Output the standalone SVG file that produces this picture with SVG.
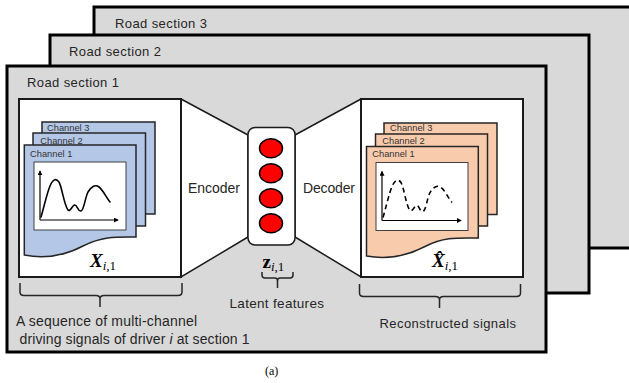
<svg xmlns="http://www.w3.org/2000/svg" xmlns:xlink="http://www.w3.org/1999/xlink" width="629" height="383" viewBox="0 0 629 383">
<defs>
<style>
.sec{fill:#d9d9d9;stroke:#000;stroke-width:3}
.box{fill:#fff;stroke:#1a1a1a;stroke-width:2}
.trap{fill:#fff;stroke:#1a1a1a;stroke-width:1.5;stroke-linejoin:miter}
.lbl{font-family:"Liberation Sans",Arial,sans-serif;fill:#262626}
.ch{font-family:"Liberation Sans",Arial,sans-serif;font-size:9.3px;fill:#333}
.card{stroke:#262626;stroke-width:1.5}
.blue{fill:#b4c7e7}
.peach{fill:#f8cbad}
.plot{fill:#fff;stroke:#404040;stroke-width:1}
.axis{fill:none;stroke:#000;stroke-width:1.2;marker-end:url(#ah)}
.sig{fill:none;stroke:#000;stroke-width:1.6;stroke-linecap:round;stroke-linejoin:round}
.dash{stroke-dasharray:5 3.5;stroke-linecap:butt}
.math{font-family:"Liberation Serif","Times New Roman",serif;fill:#000}
.brace{fill:none;stroke:#262626;stroke-width:1.5}
.node{fill:#ff0000;stroke:#000;stroke-width:1.5}
</style>
<marker id="ah" viewBox="0 0 6 6" refX="5" refY="3" markerWidth="5" markerHeight="5" orient="auto" markerUnits="userSpaceOnUse">
<path d="M0,0 L6,3 L0,6 Z" fill="#000"/>
</marker>
</defs>

<g id="section3">
<rect class="sec" x="94" y="7" width="560" height="241"/>
<text class="lbl" x="115" y="28" font-size="13" textLength="92">Road section 3</text>
</g>
<g id="section2">
<rect class="sec" x="50" y="35" width="539" height="258"/>
<text class="lbl" x="69" y="56" font-size="13" textLength="92">Road section 2</text>
</g>
<g id="section1">
<rect class="sec" x="7" y="66" width="539" height="286"/>
<text class="lbl" x="27" y="87" font-size="13" textLength="92">Road section 1</text>
</g>

<g id="encoder">
<polygon class="trap" points="181,99 248,135 248,237 181,277"/>
<text class="lbl" x="188" y="193" font-size="14" textLength="52">Encoder</text>
</g>
<g id="decoder">
<polygon class="trap" points="361,99 295,135 295,237 361,277"/>
<text class="lbl" x="303" y="193" font-size="14" textLength="52">Decoder</text>
</g>

<g id="input">
<rect class="box" x="19" y="99" width="162" height="178"/>
<g transform="translate(19,99)">
<rect class="card blue" x="23" y="23" width="113" height="92"/>
<text class="ch" x="28" y="31.7">Channel 3</text>
<rect class="card blue" x="14" y="34" width="112.5" height="93"/>
<text class="ch" x="21.3" y="45">Channel 2</text>
<path class="card blue" d="M5.3,46 H117 V138 C98,138 84,137 64,147 C45,157 25,160 5.3,156 Z"/>
<text class="ch" x="11" y="57.5">Channel 1</text>
<rect class="plot" x="15" y="63" width="92" height="68"/>
<path class="axis" d="M21,121 V72"/>
<path class="axis" d="M21,121 H99"/>
<path class="sig" d="M22,118 C25,108 28,94 31,87 C34,80 37,79 40,83 C43,88 45,106 49,111 C51,113 53,107 55.5,106 C58,105 59,113 62,112 C65,111 66,99 69,93 C72,88 76,85 80,88 C84,91 87,98 91,103"/>
</g>
<text class="math" x="90" y="267" font-size="19" font-weight="bold" font-style="italic">X<tspan font-size="13" dy="3" font-weight="normal">i</tspan><tspan font-size="13" font-style="normal" font-weight="normal">,1</tspan></text>
</g>

<g id="latent">
<rect x="248" y="127.5" width="47" height="117.5" rx="7" fill="#fff" stroke="#1a1a1a" stroke-width="1.5"/>
<ellipse class="node" cx="271" cy="148.3" rx="11.5" ry="9.5"/>
<ellipse class="node" cx="271" cy="173.3" rx="11.5" ry="9.5"/>
<ellipse class="node" cx="271" cy="198.3" rx="11.5" ry="9.5"/>
<ellipse class="node" cx="271" cy="223.3" rx="11.5" ry="9.5"/>
<text class="math" x="262.5" y="268" font-size="19" font-weight="bold">z<tspan font-size="13" dy="3" font-weight="normal" font-style="italic">i</tspan><tspan font-size="13" font-weight="normal">,1</tspan></text>
</g>

<g id="output">
<rect class="box" x="361" y="99" width="162" height="178"/>
<g transform="translate(361,99.5)">
<rect class="card peach" x="23" y="23.5" width="113" height="91.5"/>
<text class="ch" x="29" y="31.5">Channel 3</text>
<rect class="card peach" x="14.5" y="34.5" width="112" height="92"/>
<text class="ch" x="21.3" y="44.5">Channel 2</text>
<path class="card peach" d="M5.5,47 H117.3 V138.5 C98,138.5 84,137 64,147 C45,157 25,160 5.5,156.5 Z"/>
<text class="ch" x="11.3" y="57.8">Channel 1</text>
<rect class="plot" x="15" y="63" width="92" height="68"/>
<path class="axis" d="M21,121 V72"/>
<path class="axis" d="M21,121 H100"/>
<path class="sig dash" d="M22,118 C25,108 28,94 31,87 C34,80 37,79 40,83 C43,88 45,106 49,111 C51,113 53,107 55.5,106 C58,105 59,113 62,112 C65,111 66,99 69,93 C72,88 76,85 80,88 C84,91 87,98 91,103"/>
</g>
<text class="math" x="432" y="267" font-size="19" font-weight="bold" font-style="italic">X̂<tspan font-size="13" dy="3" font-weight="normal">i</tspan><tspan font-size="13" font-style="normal" font-weight="normal">,1</tspan></text>
</g>

<g id="connectors">
<path class="brace" d="M20,283 V292 Q20,295.5 24,295.5 H96 Q100,295.5 100,299 V307 M100,299 Q100,295.5 104,295.5 H178 Q182,295.5 182,292 V283"/>
<path class="brace" d="M262,272 V275 Q262,278 265,278 H275 Q277.5,278 277.5,281 V288 M277.5,281 Q277.5,278 280,278 H290 Q293,278 293,275 V272"/>
<path class="brace" d="M359.5,284 V293 Q359.5,296.5 363.5,296.5 H435.5 Q439.5,296.5 439.5,300 V308 M439.5,300 Q439.5,296.5 443.5,296.5 H516.5 Q520.5,296.5 520.5,293 V284"/>
</g>

<g id="captions">
<text class="lbl" x="229.5" y="308" font-size="13.5" textLength="94.5">Latent features</text>
<text class="lbl" x="16" y="326" font-size="14" textLength="181">A sequence of multi-channel</text>
<text class="lbl" x="19.5" y="344" font-size="14" textLength="230">driving signals of driver <tspan font-style="italic">i</tspan> at section 1</text>
<text class="lbl" x="379.5" y="327.5" font-size="13" textLength="136.5">Reconstructed signals</text>
<text x="265" y="375" font-family="Liberation Serif,Times New Roman,serif" font-size="12" fill="#000">(a)</text>
</g>
</svg>
